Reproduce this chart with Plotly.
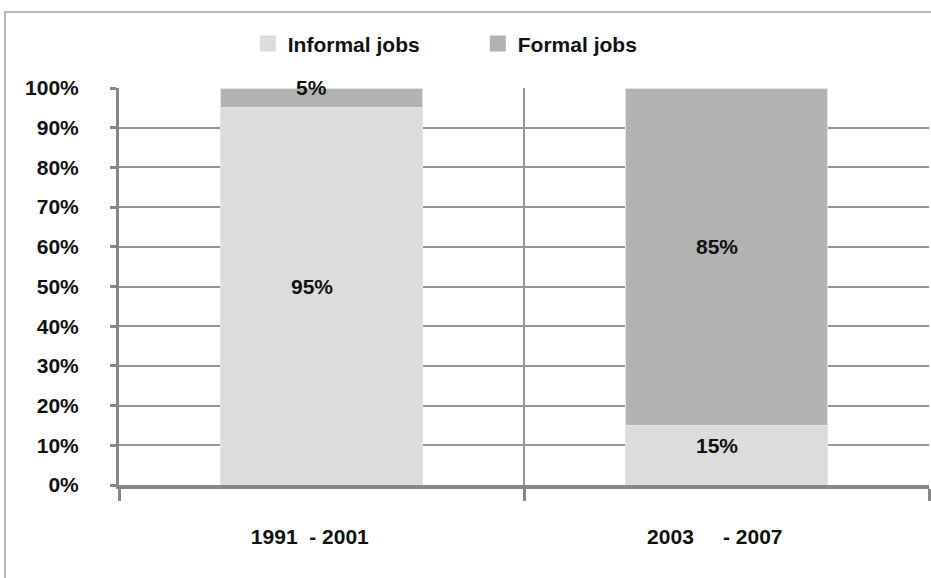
import plotly.graph_objects as go

# ---- data ----
NB = "\u00a0"
periods = ["1991" + NB * 2 + "- 2001" + NB * 4, "2003" + NB * 5 + "- 2007" + NB * 4]
series_names = ["Informal jobs", "Formal jobs"]
informal = [95, 15]
formal = [5, 85]
y_ticks = [0, 10, 20, 30, 40, 50, 60, 70, 80, 90, 100]
y_tick_labels = [f"{t}%" for t in y_ticks]

FONT = "Liberation Sans, Arial, sans-serif"
FS = 21
col_informal = "#dcdcdc"
col_formal = "#b2b2b2"
axis_col = "#878787"
grid_col = "#959595"

fig = go.Figure()
for name, vals, col in [(series_names[0], informal, col_informal),
                        (series_names[1], formal, col_formal)]:
    fig.add_trace(go.Bar(
        x=periods, y=vals, name=name, showlegend=False,
        marker=dict(color=col, line=dict(color="#e4e4e4", width=1)),
        width=0.5, hoverinfo="skip",
    ))
    # legend entry with a larger square swatch
    fig.add_trace(go.Scatter(
        x=[None], y=[None], name=name, mode="markers",
        marker=dict(symbol="square", size=16, color=col),
    ))

# value labels, centred in each stacked segment
annotations = []
for i, p in enumerate(periods):
    base = 0
    for vals in (informal, formal):
        v = vals[i]
        annotations.append(dict(
            x=p, y=base + v / 2, xref="x", yref="y", text=f"{v}%",
            showarrow=False, yshift=10, xshift=-10,
            font=dict(family=FONT, size=FS, color="#111111", weight="bold"),
        ))
        base += v

fig.update_layout(
    width=931, height=578,
    barmode="stack",
    paper_bgcolor="white", plot_bgcolor="white",
    margin=dict(l=119, r=2, t=88, b=93),
    font=dict(family=FONT, size=FS, color="#111111", weight="bold"),
    legend=dict(orientation="h", x=0.159, y=1.111, xanchor="left", yanchor="middle",
                entrywidth=185, traceorder="normal", bgcolor="rgba(0,0,0,0)",
                itemsizing="trace",
                font=dict(family=FONT, size=FS, color="#111111", weight="bold")),
    annotations=annotations,
    shapes=[dict(type="rect", xref="paper", yref="paper",
                 x0=-0.1407, x1=1.2, y0=-0.4, y1=1.1914,
                 line=dict(color="#a0a0a0", width=1.5), layer="below")],
)

fig.update_xaxes(
    type="category", range=[-0.5, 1.5], tickson="boundaries",
    showline=True, linecolor=axis_col, linewidth=4,
    ticks="outside", ticklen=12, tickwidth=3, tickcolor=axis_col,
    showgrid=True, gridcolor=grid_col, gridwidth=1.5,
    ticklabelstandoff=30,
    tickfont=dict(family=FONT, size=FS, color="#111111", weight="bold"),
)
fig.update_yaxes(
    range=[0, 100], tickvals=y_ticks, ticktext=y_tick_labels,
    showline=True, linecolor=axis_col, linewidth=3,
    ticks="outside", ticklen=6, tickwidth=3, tickcolor=axis_col,
    showgrid=True, gridcolor=grid_col, gridwidth=1.5, zeroline=False,
    ticklabelstandoff=27,
    tickfont=dict(family=FONT, size=FS, color="#111111", weight="bold"),
)

fig.write_html("out.html", config={"displayModeBar": False},
               post_script="document.body.style.margin='0';document.body.style.padding='0';")
